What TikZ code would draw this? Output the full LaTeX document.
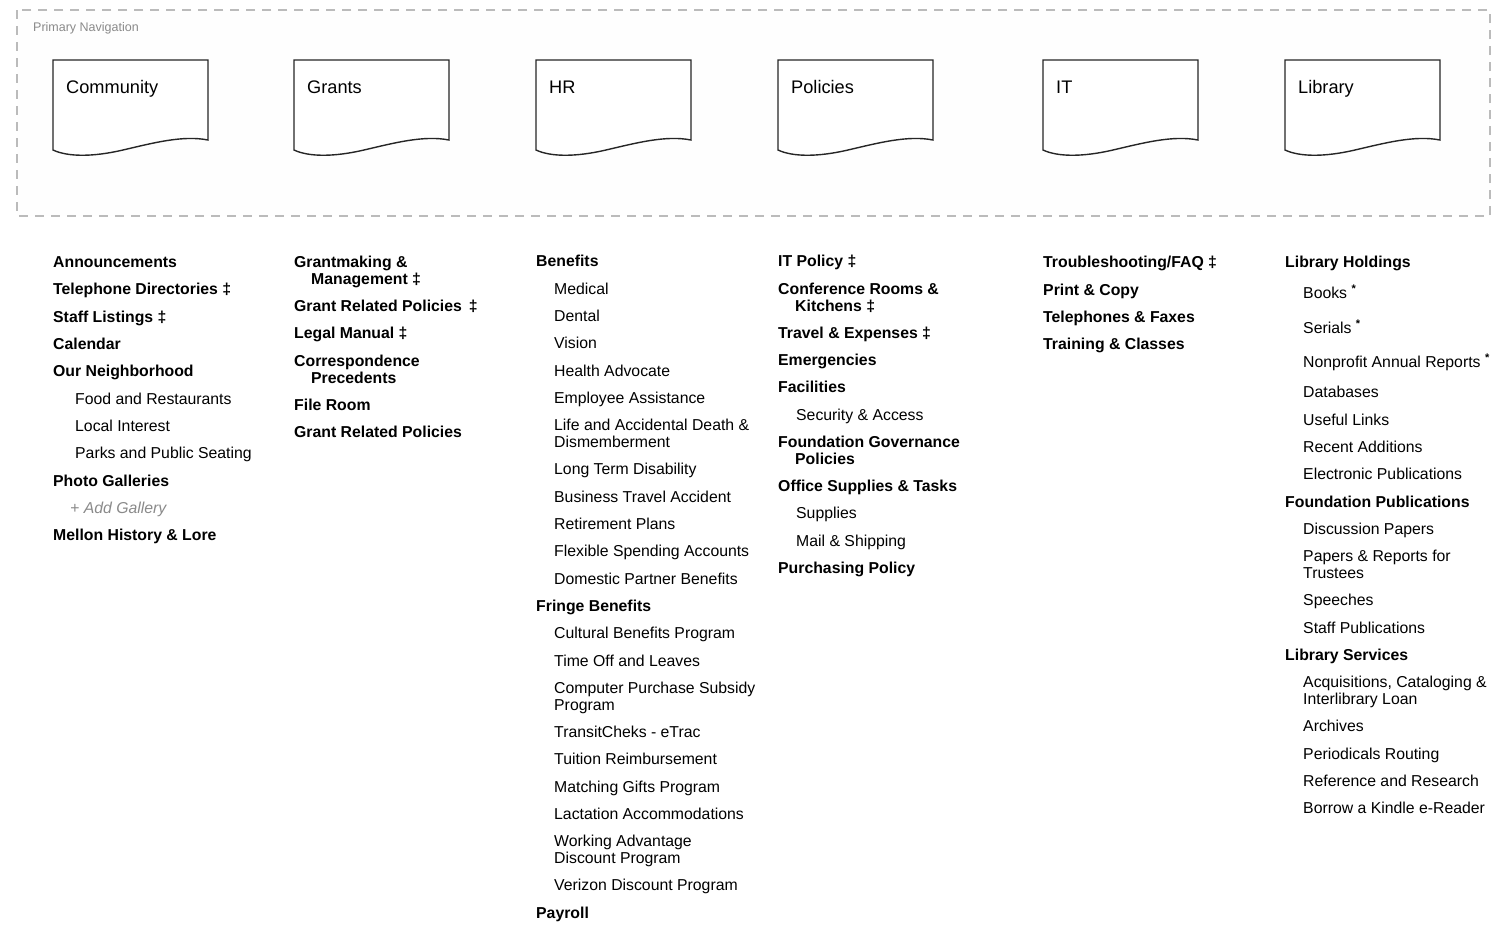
\documentclass[tikz,border=0pt]{standalone}
\usepackage{fontspec}
\setmainfont{Liberation Sans}
\usepackage{xcolor}
\usepackage{tikz}
\usetikzlibrary{calc}
\definecolor{navgray}{HTML}{BBBBBB}
\definecolor{labgray}{HTML}{8A8A8A}
\tikzset{
  head/.style={anchor=base west, inner sep=0pt, align=left, font=\fontsize{15.8}{17}\selectfont\bfseries},
  sub/.style={anchor=base west, inner sep=0pt, align=left, font=\fontsize{15.8}{17}\selectfont},
  navtitle/.style={anchor=base west, inner sep=0pt, font=\fontsize{18.2}{20}\selectfont},
  docpage/.style={line width=1.4pt, draw=black!85, fill=white}
}

\begin{document}
\begin{tikzpicture}[x=1pt,y=-1pt]
\useasboundingbox (0,0) rectangle (1502,935);
                % Primary navigation
                \draw[navgray, line width=1.3pt, dash pattern=on 9pt off 7pt, fill=gray!1] (17,10) rectangle (1490,216);
                \node[anchor=base west, inner sep=0pt, font=\fontsize{12.5}{14}\selectfont, text=labgray] (navlabel) at (33,31) {Primary Navigation};
                \foreach \x/\lab [count=\i] in {53/Community,294/Grants,536/HR,778/Policies,1043/IT,1285/Library}{
                  \draw[docpage] (\x,60) -- (\x+155,60) -- (\x+155,140)
                    .. controls (\x+130,135) and (\x+100,143) .. (\x+70,150)
                    .. controls (\x+40,157) and (\x+15,157) .. (\x,150) -- cycle;
                  \node[navtitle] (nav\i) at (\x+13,93) {\lab};
                }
                % Community
                \node[head] (announce) at (53,267) {Announcements};
                \node[head] (phonedir) at (53,294) {Telephone Directories ‡};
                \node[head] (staffl) at (53,322) {Staff Listings ‡};
                \node[head] (calendar) at (53,349) {Calendar};
                \node[head] (neighb) at (53,376) {Our Neighborhood};
                \node[sub] (food) at (75,404) {Food and Restaurants};
                \node[sub] (local) at (75,431) {Local Interest};
                \node[sub] (parks) at (75,458) {Parks and Public Seating};
                \node[head] (photos) at (53,486) {Photo Galleries};
                \node[sub, text=labgray, font=\fontsize{15.8}{17}\selectfont\itshape] (addgal) at (70,513) {+ Add Gallery};
                \node[head] (mellon) at (53,540) {Mellon History \& Lore};
                % Grants (two-line nodes sit on their last baseline)
                \node[head] (grantmaking) at (294,284) {Grantmaking \&\\\hspace*{17pt}Management ‡};
                \node[head] (grpol) at (294,311) {Grant Related Policies\hspace{7pt}‡};
                \node[head] (legal) at (294,338) {Legal Manual ‡};
                \node[head] (corresp) at (294,383) {Correspondence\\\hspace*{17pt}Precedents};
                \node[head] (fileroom) at (294,410) {File Room};
                \node[head] (grpol2) at (294,437) {Grant Related Policies};
                % HR
                \node[head] (benefits) at (536,266) {Benefits};
                \node[sub] (medical) at (554,294) {Medical};
                \node[sub] (dental) at (554,321) {Dental};
                \node[sub] (vision) at (554,348) {Vision};
                \node[sub] (health) at (554,376) {Health Advocate};
                \node[sub] (employee) at (554,403) {Employee Assistance};
                \node[sub] (life) at (554,447) {Life and Accidental Death \&\\Dismemberment};
                \node[sub] (longterm) at (554,474) {Long Term Disability};
                \node[sub] (business) at (554,502) {Business Travel Accident};
                \node[sub] (retire) at (554,529) {Retirement Plans};
                \node[sub] (flex) at (554,556) {Flexible Spending Accounts};
                \node[sub] (domestic) at (554,584) {Domestic Partner Benefits};
                \node[head] (fringe) at (536,611) {Fringe Benefits};
                \node[sub] (cultural) at (554,638) {Cultural Benefits Program};
                \node[sub] (timeoff) at (554,666) {Time Off and Leaves};
                \node[sub] (computer) at (554,710) {Computer Purchase Subsidy\\Program};
                \node[sub] (transit) at (554,737) {TransitCheks - eTrac};
                \node[sub] (tuition) at (554,764) {Tuition Reimbursement};
                \node[sub] (matching) at (554,792) {Matching Gifts Program};
                \node[sub] (lactation) at (554,819) {Lactation Accommodations};
                \node[sub] (working) at (554,863) {Working Advantage\\Discount Program};
                \node[sub] (verizon) at (554,890) {Verizon Discount Program};
                \node[head] (payroll) at (536,918) {Payroll};
                % Policies
                \node[head] (itpol) at (778,266) {IT Policy ‡};
                \node[head] (confrooms) at (778,311) {Conference Rooms \&\\\hspace*{17pt}Kitchens ‡};
                \node[head] (travel) at (778,338) {Travel \& Expenses ‡};
                \node[head] (emerg) at (778,365) {Emergencies};
                \node[head] (facil) at (778,392) {Facilities};
                \node[sub] (security) at (796,420) {Security \& Access};
                \node[head] (govern) at (778,464) {Foundation Governance\\\hspace*{17pt}Policies};
                \node[head] (office) at (778,491) {Office Supplies \& Tasks};
                \node[sub] (supplies) at (796,518) {Supplies};
                \node[sub] (mail) at (796,546) {Mail \& Shipping};
                \node[head] (purch) at (778,573) {Purchasing Policy};
                % IT
                \node[head] (trouble) at (1043,267) {Troubleshooting/FAQ ‡};
                \node[head] (print) at (1043,295) {Print \& Copy};
                \node[head] (phones) at (1043,322) {Telephones \& Faxes};
                \node[head] (training) at (1043,349) {Training \& Classes};
                % Library
                \node[head] (holdings) at (1285,267) {Library Holdings};
                \node[sub] (books) at (1303,298) {Books \textsuperscript{\bfseries *}};
                \node[sub] (serials) at (1303,333) {Serials \textsuperscript{\bfseries *}};
                \node[sub] (nonprofit) at (1303,367) {Nonprofit Annual Reports \textsuperscript{\bfseries *}};
                \node[sub] (databases) at (1303,397) {Databases};
                \node[sub] (useful) at (1303,425) {Useful Links};
                \node[sub] (recent) at (1303,452) {Recent Additions};
                \node[sub] (electronic) at (1303,479) {Electronic Publications};
                \node[head] (foundpub) at (1285,507) {Foundation Publications};
                \node[sub] (discussion) at (1303,534) {Discussion Papers};
                \node[sub] (papers) at (1303,578) {Papers \& Reports for\\Trustees};
                \node[sub] (speeches) at (1303,605) {Speeches};
                \node[sub] (staffpub) at (1303,633) {Staff Publications};
                \node[head] (libserv) at (1285,660) {Library Services};
                \node[sub] (acq) at (1303,704) {Acquisitions, Cataloging \&\\Interlibrary Loan};
                \node[sub] (archives) at (1303,731) {Archives};
                \node[sub] (periodicals) at (1303,759) {Periodicals Routing};
                \node[sub] (reference) at (1303,786) {Reference and Research};
                \node[sub] (kindle) at (1303,813) {Borrow a Kindle e-Reader};
            \end{tikzpicture}
\end{document}
